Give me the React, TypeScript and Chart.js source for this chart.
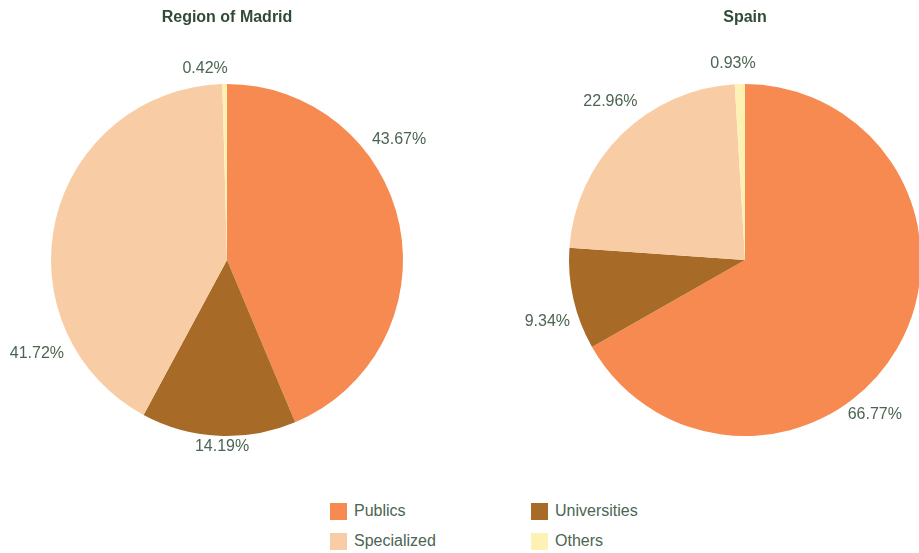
import React, { useEffect, useRef } from "react";
import { Chart, registerables } from "chart.js";

Chart.register(...registerables);

const categories = ["Publics", "Universities", "Specialized", "Others"];
const madridValues = [43.67, 14.19, 41.72, 0.42];
const spainValues = [66.77, 9.34, 22.96, 0.93];
const chartTitles = ["Region of Madrid", "Spain"];

const colors = ["#F68A50", "#A86A27", "#F8CCA5", "#FDF1B3"];
const textColor = "#4B6552";
const FONT = "'Liberation Sans', Arial, sans-serif";

// label placement: [angle in degrees clockwise from top, distance from centre]
const madridLabelPos = [[55, 210], [181.5, 187], [243.7, 212], [-6.5, 193]];
const spainLabelPos = [[140, 202], [252.7, 207], [-40.3, 208], [-3.5, 197]];

const labelPlugin = {
  id: "outLabels",
  afterDatasetsDraw(chart: any, _args: any, opts: any) {
    const ctx = chart.ctx;
    const meta = chart.getDatasetMeta(0);
    const data = chart.data.datasets[0].data;
    const pos = opts.positions || [];
    ctx.save();
    ctx.font = `16px ${FONT}`;
    ctx.fillStyle = textColor;
    ctx.textAlign = "center";
    ctx.textBaseline = "middle";
    meta.data.forEach((arc: any, i: number) => {
      const p = pos[i];
      const a = ((p[0] - 90) * Math.PI) / 180;
      const x = arc.x + Math.cos(a) * p[1];
      const y = arc.y + Math.sin(a) * p[1];
      ctx.fillText(data[i].toFixed(2) + "%", x, y);
    });
    ctx.restore();
  },
};

function PieChart(props: { values: number[]; title: string; positions: number[][]; padding: any; width: number; height: number }) {
  const ref = useRef<HTMLCanvasElement>(null);
  useEffect(() => {
    const chart = new Chart(ref.current!, {
      type: "pie",
      data: {
        labels: categories,
        datasets: [
          {
            data: props.values,
            backgroundColor: colors,
            borderWidth: 0,
          },
        ],
      },
      options: {
        responsive: false,
        animation: false,
        layout: { padding: props.padding },
        plugins: {
          legend: { display: false },
          tooltip: { enabled: false },
          title: {
            display: true,
            text: props.title,
            color: "#2F4A36",
            font: { family: FONT, size: 16, weight: "bold" },
            padding: { top: 8, bottom: 56.8 },
          },
          outLabels: { positions: props.positions },
        } as any,
      },
      plugins: [labelPlugin],
    });
    return () => chart.destroy();
  }, []);
  return <canvas ref={ref} width={props.width} height={props.height} />;
}

export default function App() {
  useEffect(() => {
    document.body.style.margin = "0";
  }, []);
  const legendItem = (i: number, left: number, top: number) => (
    <div key={i} style={{ position: "absolute", left, top, display: "flex", alignItems: "center", fontFamily: FONT, fontSize: 16, color: textColor }}>
      <span style={{ display: "inline-block", width: 17, height: 17, background: colors[i], marginRight: 7 }} />
      <span>{categories[i]}</span>
    </div>
  );
  return (
    <div style={{ position: "relative", width: 919, height: 553, overflow: "hidden", background: "#fff" }}>
      <div style={{ position: "absolute", left: 0, top: 0 }}>
        <PieChart values={madridValues} title={chartTitles[0]} positions={madridLabelPos} padding={{ left: 51, right: 57, top: 0, bottom: 54 }} width={460} height={490} />
      </div>
      <div style={{ position: "absolute", left: 459, top: 0 }}>
        <PieChart values={spainValues} title={chartTitles[1]} positions={spainLabelPos} padding={{ left: 110, right: 18, top: 0, bottom: 54 }} width={480} height={490} />
      </div>
      {legendItem(0, 330, 502)}
      {legendItem(1, 531, 502)}
      {legendItem(2, 330, 532)}
      {legendItem(3, 531, 532)}
    </div>
  );
}
